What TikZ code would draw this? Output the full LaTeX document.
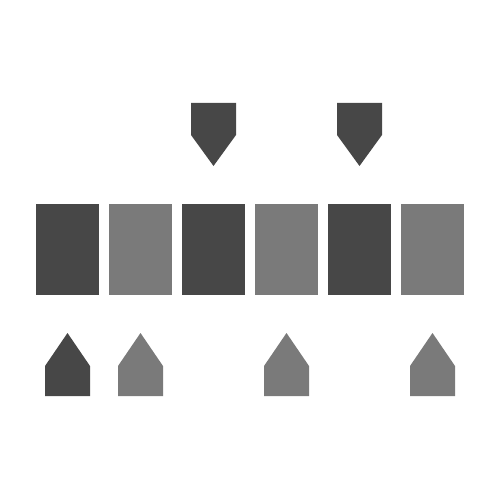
\documentclass[tikz,border=0pt]{standalone}
\usepackage{xcolor}
\usepackage{tikz}
\usetikzlibrary{positioning}
\definecolor{darkcell}{HTML}{474747}
\definecolor{graycell}{HTML}{7A7A7A}

\begin{document}
\begin{tikzpicture}[
    x=0.02cm, y=-0.02cm,
    cell/.style={
        % The shape:
        rectangle,
        inner sep=0pt,
        minimum width=1.26cm,
        minimum height=1.82cm,
        draw=none},
    marker/.style={draw=none}
  ]
  \useasboundingbox (0,0) rectangle (500,500);
  % the row of cells
  \foreach \x/\c [count=\i] in {67.5/darkcell,140.5/graycell,213.5/darkcell,286.5/graycell,359.5/darkcell,432.5/graycell}
    \node (cell\i) [cell,fill=\c] at (\x,249.5) {};
  % markers above, pointing down
  \foreach \x in {213.5,359.5}
    \fill[marker,darkcell] (\x-22.5,103) -- (\x+22.5,103) -- (\x+22.5,135) -- (\x,166) -- (\x-22.5,135) -- cycle;
  % markers below, pointing up
  \foreach \x/\c in {67.5/darkcell,140.5/graycell,286.5/graycell,432.5/graycell}
    \fill[marker,\c] (\x-22.5,396) -- (\x-22.5,366) -- (\x,333) -- (\x+22.5,366) -- (\x+22.5,396) -- cycle;
\end{tikzpicture}
\end{document}
